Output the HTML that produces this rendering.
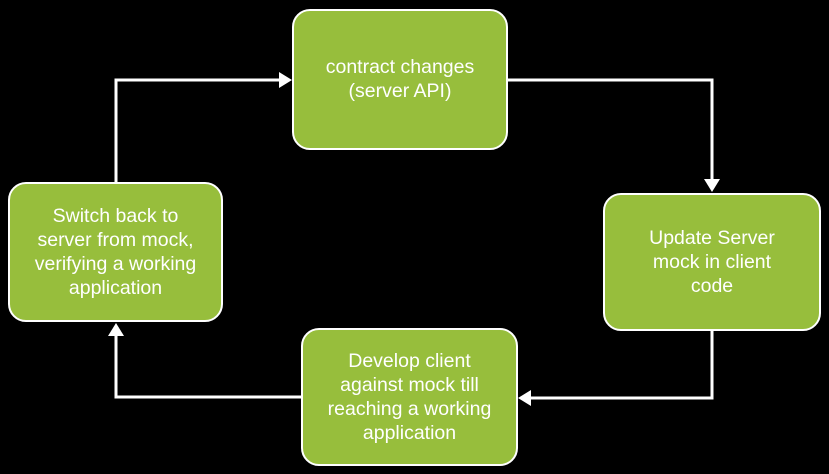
<!DOCTYPE html>
<html><head><style>
body{margin:0;background:#000;width:829px;height:474px;overflow:hidden;position:relative;font-family:"Liberation Sans",sans-serif}
.b{position:absolute;box-sizing:border-box;background:#97BE3C;border:2.5px solid #fff;border-radius:18px;color:#fff;font-size:19.5px;line-height:24px;text-align:center;display:flex;justify-content:center;white-space:nowrap}
</style></head><body>
<svg width="829" height="474" style="position:absolute;left:0;top:0">
<g stroke="#fff" stroke-width="3" fill="none">
<polyline points="508,80 712,80 712,180"/>
<polyline points="712,331 712,398 530,398"/>
<polyline points="301,397 116,397 116,335"/>
<polyline points="116,182 116,80 280,80"/>
</g>
<g fill="#fff">
<polygon points="704,179 720,179 712,192"/>
<polygon points="531,390 531,406 518,398"/>
<polygon points="108,336 124,336 116,323"/>
<polygon points="279,72 279,88 292,80"/>
</g>
</svg>
<div class="b" style="left:292px;top:9px;width:216px;height:141px;padding-top:44px">contract changes<br>(server API)</div>
<div class="b" style="left:603px;top:193px;width:218px;height:138px;align-items:center">Update Server<br>mock in client<br>code</div>
<div class="b" style="left:301px;top:328px;width:217px;height:138px;align-items:center">Develop client<br>against mock till<br>reaching a working<br>application</div>
<div class="b" style="left:8px;top:182px;width:215px;height:140px;align-items:center">Switch back to<br>server from mock,<br>verifying a working<br>application</div>
</body></html>
